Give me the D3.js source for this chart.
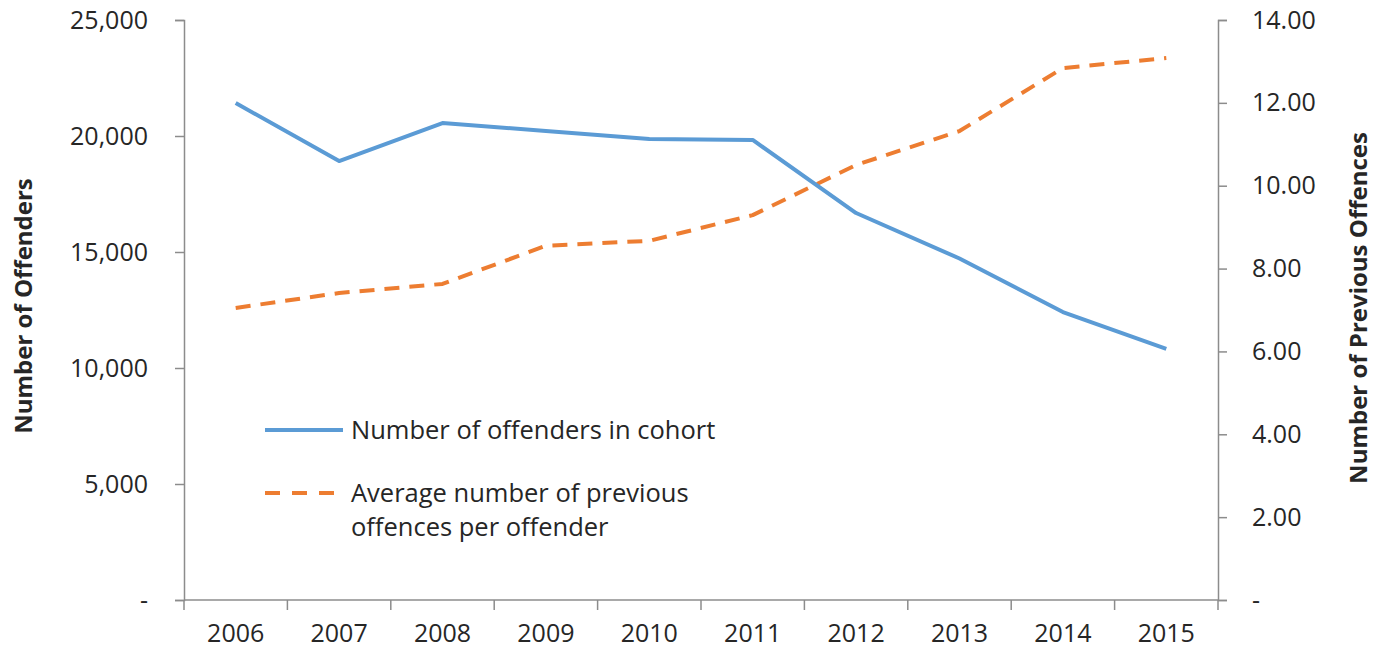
<!DOCTYPE html>
<html>
<head>
<meta charset="utf-8">
<script src="https://cdn.jsdelivr.net/npm/d3@7"></script>
<style>
  body { margin: 0; background: #fff; }
  text { font-family: "Open Sans", sans-serif; fill: #262626; }
</style>
</head>
<body>
<svg class="chart" width="1373" height="650"></svg>
<script>
let years = ['2006', '2007', '2008', '2009', '2010', '2011', '2012', '2013', '2014', '2015'];
let offenders = [21420, 18920, 20560, 20220, 19870, 19830, 16680, 14720, 12410, 10820];
let avgPrevious = [7.05, 7.41, 7.63, 8.55, 8.67, 9.29, 10.50, 11.32, 12.84, 13.08];
let leftTicks = [0, 5000, 10000, 15000, 20000, 25000];
let rightTicks = [0, 2, 4, 6, 8, 10, 12, 14];

let plotL = 184, plotR = 1218, plotT = 20, plotB = 600;
let axisCol = '#8c8c8c';

let svg = d3.select('svg.chart');

let x = d3.scaleBand().domain(years).range([plotL, plotR]);
let yL = d3.scaleLinear().domain([0, 25000]).range([plotB, plotT]);
let yR = d3.scaleLinear().domain([0, 14]).range([plotB, plotT]);

// axes
let leftAxis = d3.axisLeft(yL).tickValues(leftTicks).tickSize(9).tickPadding(27)
  .tickFormat(d => d === 0 ? '-' : d3.format(',')(d));
let rightAxis = d3.axisRight(yR).tickValues(rightTicks).tickSize(9).tickPadding(25)
  .tickFormat(d => d === 0 ? '-' : d3.format('.2f')(d));
let bottomAxis = d3.axisBottom(x).tickSize(0).tickPadding(24);

function styleAxis(g){
  g.select('.domain').attr('stroke', axisCol).attr('stroke-width', 1.5);
  g.selectAll('.tick line').attr('stroke', axisCol).attr('stroke-width', 1.5);
  g.selectAll('.tick text').style('font-size', '25px').attr('fill', '#262626');
}

svg.append('g').attr('transform', `translate(${plotL},0)`).call(leftAxis).call(styleAxis);
svg.append('g').attr('transform', `translate(${plotR},0)`).call(rightAxis).call(styleAxis);
let gx = svg.append('g').attr('transform', `translate(0,${plotB})`).call(bottomAxis).call(styleAxis);
gx.select('.domain').attr('d', `M${plotL},0H${plotR}`);

// band boundary ticks on x axis
let bounds = years.map(d => x(d)).concat([x(years[years.length - 1]) + x.bandwidth()]);
svg.selectAll('line.xtick')
  .data(bounds)
  .enter()
  .append('line')
  .attr('class', 'xtick')
  .attr('x1', d => d)
  .attr('x2', d => d)
  .attr('y1', plotB)
  .attr('y2', plotB + 10)
  .style('stroke', axisCol)
  .style('stroke-width', 1.5);

// axis titles
svg.append('text')
  .attr('transform', `translate(32,${(plotT + plotB) / 2 - 4}) rotate(-90)`)
  .attr('text-anchor', 'middle')
  .style('font-size', '24px')
  .style('font-weight', 'bold')
  .text('Number of Offenders');

svg.append('text')
  .attr('transform', `translate(1367,${(plotT + plotB) / 2 - 2}) rotate(-90)`)
  .attr('text-anchor', 'middle')
  .style('font-size', '24px')
  .style('font-weight', 'bold')
  .text('Number of Previous Offences');

// lines
let cx = d => x(d) + x.bandwidth() / 2;

let lineL = d3.line()
  .x((d, i) => cx(years[i]))
  .y(d => yL(d));

let lineR = d3.line()
  .x((d, i) => cx(years[i]))
  .y(d => yR(d));

svg.append('path')
  .datum(avgPrevious)
  .attr('d', lineR)
  .style('fill', 'none')
  .style('stroke', '#ED7D31')
  .style('stroke-width', '4px')
  .style('stroke-linejoin', 'round')
  .style('stroke-dasharray', '15,10');

svg.append('path')
  .datum(offenders)
  .attr('d', lineL)
  .style('fill', 'none')
  .style('stroke', '#5B9BD5')
  .style('stroke-width', '4px')
  .style('stroke-linejoin', 'round');

// legend
let legend = svg.append('g');
legend.append('line')
  .attr('x1', 265).attr('x2', 343).attr('y1', 430).attr('y2', 430)
  .style('stroke', '#5B9BD5').style('stroke-width', '4px');
legend.append('text')
  .attr('x', 351).attr('y', 439)
  .style('font-size', '25.5px')
  .text('Number of offenders in cohort');

legend.append('line')
  .attr('x1', 265).attr('x2', 343).attr('y1', 493).attr('y2', 493)
  .style('stroke', '#ED7D31').style('stroke-width', '4px')
  .style('stroke-dasharray', '15,12');
legend.append('text')
  .attr('x', 351).attr('y', 502)
  .style('font-size', '25.5px')
  .text('Average number of previous');
legend.append('text')
  .attr('x', 351).attr('y', 536)
  .style('font-size', '25.5px')
  .text('offences per offender');
</script>
</body>
</html>
